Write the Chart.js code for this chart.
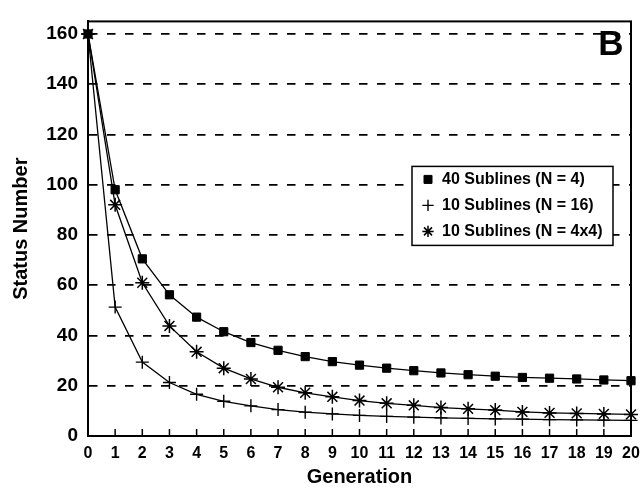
<!DOCTYPE html>
<html>
<head>
<meta charset="utf-8">
<script src="https://cdn.jsdelivr.net/npm/chart.js@4.4.1/dist/chart.umd.min.js"></script>
<style>
  html, body { margin: 0; padding: 0; background: #fff; }
  #wrap { width: 643px; height: 493px; position: relative; }
</style>
</head>
<body>
<div id="wrap"><canvas id="statusChart"></canvas></div>
<script>
// values
const generations = ['0', '1', '2', '3', '4', '5', '6', '7', '8', '9', '10',
  '11', '12', '13', '14', '15', '16', '17', '18', '19', '20'];
const sublines40 = [160, 98, 70.5, 56.2, 47.3, 41.5, 37.2, 34.1, 31.6, 29.6, 28.2,
  27.0, 26.0, 25.1, 24.4, 23.8, 23.3, 23.0, 22.7, 22.3, 22.0];
const sublines10 = [160, 51.3, 29.4, 21.3, 16.6, 13.8, 12.0, 10.5, 9.5, 8.8, 8.2,
  7.8, 7.5, 7.2, 7.0, 6.8, 6.7, 6.5, 6.4, 6.3, 6.2];
const sublines10x4 = [160, 92, 61, 43.8, 33.5, 27.0, 22.7, 19.4, 17.2, 15.6, 14.1,
  13.0, 12.2, 11.3, 10.8, 10.3, 9.6, 9.2, 9.0, 8.8, 8.6];
const yTicks = [0, 20, 40, 60, 80, 100, 120, 140, 160];
const seriesLabels = ['40 Sublines (N = 4)', '10 Sublines (N = 16)', '10 Sublines (N = 4x4)'];
const panelLetter = 'B';

Chart.defaults.font.family = '"Liberation Sans", Arial, sans-serif';
Chart.defaults.color = '#000';

// legend box, inner x ticks, frame and panel letter
const decorations = {
  id: 'decorations',
  afterLayout(chart) {
    const lg = chart.legend;
    const a = chart.chartArea;
    lg.left = a.right - 219;
    lg.top = a.top + 140;
    lg.right = lg.left + 220;
    lg.bottom = lg.top + 120;
  },
  beforeDatasetsDraw(chart) {
    const {ctx, chartArea: a} = chart;
    const xs = chart.scales.x;
    ctx.save();
    ctx.strokeStyle = '#000';
    ctx.lineWidth = 1.5;
    xs.ticks.forEach((t, i) => {
      const px = xs.getPixelForTick(i);
      ctx.beginPath();
      ctx.moveTo(px, a.bottom);
      ctx.lineTo(px, a.bottom - 7);
      ctx.stroke();
    });
    ctx.lineWidth = 2;
    ctx.strokeRect(a.left, a.top, a.right - a.left, a.bottom - a.top);

    const lg = chart.legend;
    const bx = lg.left, by = lg.top + 5;
    ctx.fillStyle = '#fff';
    ctx.fillRect(bx, by, 201, 79);
    ctx.lineWidth = 1.5;
    ctx.strokeRect(bx, by, 201, 79);
    ctx.restore();
    lg.draw();

    ctx.save();
    ctx.font = 'bold 35px "Liberation Sans", Arial, sans-serif';
    ctx.fillStyle = '#000';
    ctx.textAlign = 'center';
    ctx.textBaseline = 'middle';
    ctx.fillText(panelLetter, a.right - 20, a.top + 24);
    ctx.restore();
  }
};

const lineStyle = {
  borderColor: '#000',
  backgroundColor: '#000',
  borderWidth: 1.3,
  pointBorderColor: '#000',
  pointBackgroundColor: '#000',
  tension: 0,
  clip: false
};

new Chart(document.getElementById('statusChart'), {
  type: 'line',
  data: {
    labels: generations,
    datasets: [
      {...lineStyle, label: seriesLabels[0], data: sublines40, pointStyle: 'rect', pointRadius: 5.8, pointBorderWidth: 1},
      {...lineStyle, label: seriesLabels[1], data: sublines10, pointStyle: 'cross', pointRadius: 6.5, pointBorderWidth: 1.4},
      {...lineStyle, label: seriesLabels[2], data: sublines10x4, pointStyle: 'star', pointRadius: 7, pointBorderWidth: 1.5}
    ]
  },
  options: {
    responsive: true,
    maintainAspectRatio: false,
    animation: false,
    layout: { padding: { top: 17, right: 12, left: 0, bottom: 0 } },
    plugins: {
      tooltip: { enabled: false },
      legend: {
        position: 'chartArea',
        align: 'start',
        labels: {
          usePointStyle: true,
          boxWidth: 12,
          boxHeight: 8,
          padding: 10,
          color: '#000',
          font: { size: 16, weight: 'bold' }
        }
      }
    },
    scales: {
      x: {
        grid: { display: false },
        border: { display: true, color: '#000', width: 2 },
        ticks: { autoSkip: false, maxRotation: 0, padding: 0, color: '#000', font: { size: 16, weight: 'bold' } },
        title: { display: true, text: 'Generation', color: '#000', font: { size: 20, weight: 'bold' }, padding: { top: 0, bottom: 4 } },
        afterFit(scale) { scale.height = 57; }
      },
      y: {
        min: 0,
        max: 165,
        afterBuildTicks(scale) { scale.ticks = yTicks.map(v => ({ value: v })); },
        afterFit(scale) { scale.width = 88; },
        grid: {
          drawTicks: false,
          lineWidth: 1.8,
          color: (c) => (c.tick && c.tick.value === 0 ? 'rgba(0,0,0,0)' : '#000')
        },
        border: { display: true, color: '#000', width: 2, dash: [8.5, 9.5] },
        ticks: { padding: 10, color: '#000', font: { size: 19, weight: 'bold' } },
        title: { display: true, text: 'Status Number', color: '#000', font: { size: 20, weight: 'bold' }, padding: { top: 9, bottom: 0 } }
      }
    }
  },
  plugins: [decorations]
});
</script>
</body>
</html>
